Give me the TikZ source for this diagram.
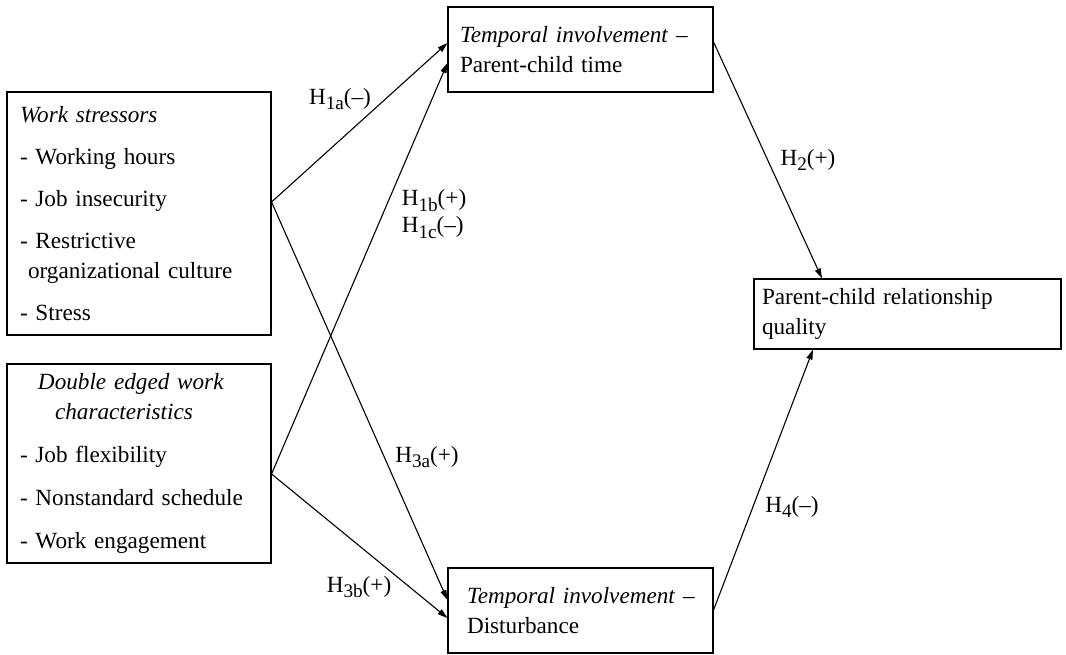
\documentclass[tikz,border=0pt]{standalone}
\usepackage{fontspec}
\setmainfont{Liberation Serif}
\usetikzlibrary{arrows.meta,calc}
\newcommand{\hsub}[1]{\raisebox{-2.6pt}{\fontsize{9.6}{9.6}\selectfont#1}}

\begin{document}
\begin{tikzpicture}[x=0.5pt,y=-0.5pt,
box/.style={draw,rectangle,inner sep=0pt,align=left,line width=0.55pt,font=\fontsize{11.6}{15}\selectfont},
hyp/.style={inner sep=0pt,align=left,font=\fontsize{11.6}{13.5}\selectfont},
arr/.style={-{Triangle[length=5pt,width=3pt]},line width=0.55pt}]
\useasboundingbox(0,0)rectangle(1066,654);
% boxes
\node[box,minimum width=132pt,minimum height=121.5pt,text width=119pt](ws)at(139,213.5)
{\textit{Work stressors}\\[6pt]- Working hours\\[6pt]- Job insecurity\\[6pt]- Restrictive\\
\hspace*{4pt}organizational culture\\[6pt]- Stress};
\node[box,minimum width=132pt,minimum height=99.5pt,text width=119pt](de)at(139,463.5)
{\hspace*{9pt}\textit{Double edged work}\\\hspace*{17.5pt}\textit{characteristics}\\[6.5pt]
- Job flexibility\\[6.5pt]- Nonstandard schedule\\[6.5pt]- Work engagement};
\node[box,minimum width=132.5pt,minimum height=42.5pt,text width=120.5pt](tp)at(580.5,49.5)
{\textit{Temporal involvement} –\\Parent-child time};
\node[box,minimum width=132.5pt,minimum height=42.5pt,text width=120.5pt](bt)at(580.5,610.5)
{\hspace*{3.5pt}\textit{Temporal involvement} –\\\hspace*{3.5pt}Disturbance};
\node[box,minimum width=153.5pt,minimum height=35pt,text width=145.5pt](pq)at(907.5,314)
{Parent-child relationship\\quality};
% ends of the paths
\coordinate(wsout)at($(ws.east)+(0,-11.5)$);
\coordinate(deout)at($(de.east)+(0,10.5)$);
\draw[arr](wsout)--($(tp.west)+(0,-6.5)$);
\draw[arr](deout)--($(tp.west)+(0,13.5)$);
\draw[arr](wsout)--($(bt.west)+(0,-10.5)$);
\draw[arr](deout)--($(bt.west)+(0,7.5)$);
\draw[arr]($(tp.east)+(0,-7.5)$)--($(pq.north)+(-85.5,0)$);
\draw[arr]($(bt.east)+(0,-0.5)$)--($(pq.south)+(-94.5,0)$);
% hypotheses
\node[hyp](h1a)at(340,99){H\hsub{1a}(–)};
\node[hyp](h1bc)at(434,214){H\hsub{1b}(+)\\H\hsub{1c}(–)};
\node[hyp](h2)at(808,160){H\hsub{2}(+)};
\node[hyp](h3a)at(427,457){H\hsub{3a}(+)};
\node[hyp](h3b)at(359,587){H\hsub{3b}(+)};
\node[hyp](h4)at(792,507){H\hsub{4}(–)};
\end{tikzpicture}
\end{document}
